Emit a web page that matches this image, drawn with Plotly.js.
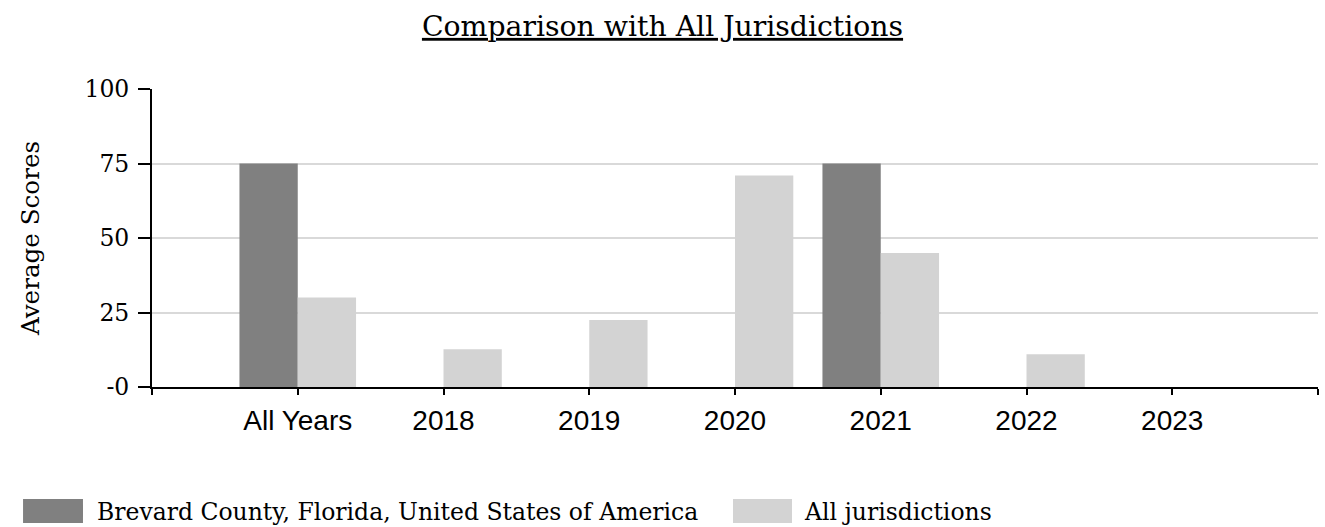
<!DOCTYPE html>
<html>
<head>
<meta charset="utf-8">
<script src="https://cdn.plot.ly/plotly-3.0.1.min.js"></script>
<style>html,body{margin:0;padding:0;background:#fff;}#chart{width:1325px;height:527px;}</style>
</head>
<body>
<div id="chart"></div>
<script>
const categories = ["All Years", "2018", "2019", "2020", "2021", "2022", "2023"];
const brevardScores = [75, null, null, null, 75, null, null];
const allJurisdictionScores = [30, 12.7, 22.5, 71, 45, 11, null];
const yTickValues = [0, 25, 50, 75, 100];
const yTickLabels = ["-0", "25", "50", "75", "100"];
const seriesNames = ["Brevard County, Florida, United States of America", "All jurisdictions"];
const seriesColors = ["#808080", "#d3d3d3"];

const xIdx = categories.map((_, i) => i);
const xTickVals = [-1].concat(xIdx, [categories.length]);
const xTickText = [""].concat(categories, [""]);

const serif = "DejaVu Serif, serif";
const sans = "Liberation Sans, Arial, sans-serif";

const traces = [
  {type: "bar", name: seriesNames[0], x: xIdx, y: brevardScores, legend: "legend",
   marker: {color: seriesColors[0], line: {width: 0}}},
  {type: "bar", name: seriesNames[1], x: xIdx, y: allJurisdictionScores, legend: "legend2",
   marker: {color: seriesColors[1], line: {width: 0}}}
];

// legend swatch boxes (paper coordinates, below the plot area)
const swatchShapes = [
  {x0: -0.1106, x1: -0.0592},
  {x0: 0.4983, x1: 0.5489}
].map((s, i) => ({type: "rect", xref: "paper", yref: "paper", x0: s.x0, x1: s.x1,
  y0: -0.4564, y1: -0.3758, fillcolor: seriesColors[i], line: {width: 0}, layer: "above"}));

const legendFont = {family: serif, size: 23.5, color: "#000"};
const legendBase = {orientation: "h", xref: "container", yref: "container", xanchor: "left",
  y: 1 - 511 / 527, yanchor: "middle", font: legendFont, itemwidth: 30, bgcolor: "rgba(0,0,0,0)"};

const layout = {
  width: 1325, height: 527,
  paper_bgcolor: "#fff", plot_bgcolor: "#fff",
  margin: {l: 152, r: 7, t: 89, b: 140},
  barmode: "group", bargap: 0.2, bargroupgap: 0,
  showlegend: true,
  shapes: swatchShapes,
  title: {text: '<span style="text-decoration:underline">Comparison with All Jurisdictions</span>',
          font: {family: serif, size: 28.3, color: "#000"},
          x: 0.5, xanchor: "center", xref: "container",
          y: 1 - 26 / 527, yanchor: "middle", yref: "container"},
  xaxis: {type: "linear", range: [-1, categories.length], tickmode: "array",
          tickvals: xTickVals, ticktext: xTickText,
          showgrid: false, zeroline: false,
          showline: true, linecolor: "#000", linewidth: 2,
          ticks: "outside", ticklen: 6, tickwidth: 2, tickcolor: "#000",
          ticklabelstandoff: 1,
          tickfont: {family: sans, size: 28, color: "#000"}},
  yaxis: {range: [0, 100], tickmode: "array", tickvals: yTickValues, ticktext: yTickLabels,
          showgrid: true, gridcolor: "#d9d9d9", gridwidth: 2, zeroline: false,
          showline: true, linecolor: "#000", linewidth: 2,
          ticks: "outside", ticklen: 12, tickwidth: 2, tickcolor: "#000",
          ticklabelstandoff: 4,
          tickfont: {family: serif, size: 23.5, color: "#000"},
          title: {text: "Average Scores", font: {family: serif, size: 24.6, color: "#000"}, standoff: 38}},
  legend: Object.assign({}, legendBase, {x: 57 / 1325}),
  legend2: Object.assign({}, legendBase, {x: 765 / 1325}),
  hovermode: false
};

Plotly.newPlot("chart", traces, layout, {displayModeBar: false, staticPlot: true});
</script>
</body>
</html>
